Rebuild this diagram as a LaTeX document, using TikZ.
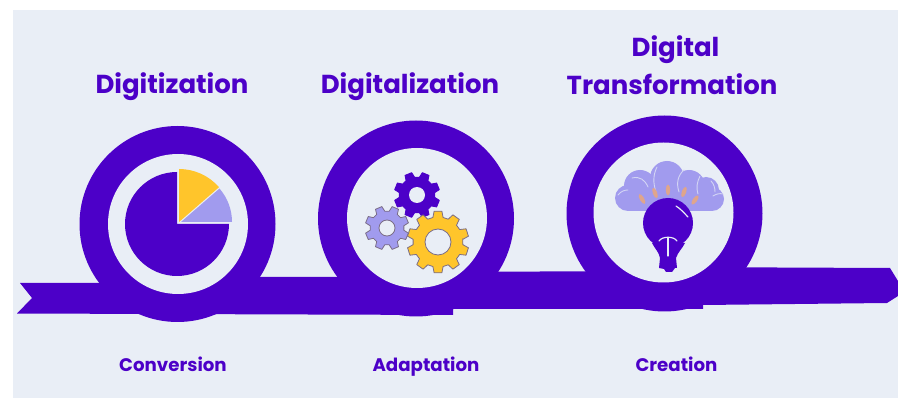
\documentclass[tikz,border=0pt]{standalone}
\usepackage{fontspec}
\setmainfont{Poppins}
\definecolor{bgpale}{HTML}{E9EEF6}
\definecolor{deep}{HTML}{4C00C8}
\definecolor{lilac}{HTML}{A19BEE}
\definecolor{sun}{HTML}{FFC52B}
\definecolor{flame}{HTML}{DFA58C}
\definecolor{gearline}{HTML}{7A6C86}
\definecolor{crease}{HTML}{D3D5F4}
\newcommand{\gear}[6]{
\draw [fill=#4,draw=#5,line width=.8pt,line join=round,shift={(#1)}]
 (-7.5:#2) \foreach \a in {1,...,#6} {
  -- ({(\a-1)*360/#6+360/#6*.17}:#2) -- ({(\a-1)*360/#6+360/#6*.3}:#3) -- ({(\a-1)*360/#6+360/#6*.7}:#3) -- ({(\a-1)*360/#6+360/#6*.83}:#2)
 } -- cycle;
}
\begin{document}
\begin{tikzpicture}
[x=1pt,y=-1pt]
\tikzset{title/.style={text=deep,font=\fontsize{26}{37}\selectfont\bfseries},
	sub/.style={text=deep,anchor=base,font=\fontsize{18.2}{22}\selectfont\bfseries},
	thread/.style={crease,line width=.9pt,line cap=round},
	glint/.style={bgpale,line width=1.2pt,line cap=round},
	blob/.style={fill=lilac,draw=none}}
\useasboundingbox (0,0) rectangle (898,398);
\fill [bgpale] (13,10) rectangle (898,398);

\foreach \cx/\cy in {177.5/224,416/218.5,664.5/213.5}
	\fill [deep] (\cx,\cy) circle [radius=98pt];
\fill [deep] (20,283) -- (32,298) -- (17,313.5) -- (453,315) -- (453,309) -- (703,309) -- (703,305) -- (887,303) -- (898,296) -- (898,281) -- (890,268) -- (664,267) -- (664,271) -- (416,272) -- (416,277) -- (177,277) -- (177,283) -- cycle;
\foreach \cx/\cy in {178/224,417/218,663.5/212.5}
	\fill [bgpale] (\cx,\cy) circle [radius=70pt];

\fill [deep] (177,224) -- (177,172) arc [start angle=90,end angle=180,radius=52pt] arc [start angle=180,end angle=360,radius=52pt] -- cycle;
\fill [sun] (179,222) -- (179,169) arc [start angle=90,end angle=41,radius=53pt] -- cycle;
\fill [lilac] (181,222) -- (232,222) arc [start angle=0,end angle=41,radius=51pt] -- cycle;

\gear{417,195}{18}{23}{deep}{deep}{8}
\fill [bgpale] (417,195) circle [radius=8pt];
\gear{387,228}{17}{22}{lilac}{gearline}{8}
\draw [fill=bgpale,draw=gearline,line width=.8pt] (387,228) circle [radius=8pt];
\gear{438,242}{25}{31}{sun}{gearline}{10}
\draw [fill=bgpale,draw=gearline,line width=.8pt] (438,242) circle [radius=13pt];

\foreach \cx/\cy/\r in {628/198/13,640/186/16,667/178/17,689/186/16,706/190/13,712/199/12}
	\fill [blob] (\cx,\cy) circle [radius=\r pt];
\fill [blob] (628,180) rectangle (712,211);
\draw [thread] (618,195) .. controls (621,191) and (625,190) .. (628,190);
\draw [thread] (632,178) .. controls (640,176) and (645,180) .. (648,187);
\draw [thread] (657,167) .. controls (653,175) and (653,183) .. (656,192);
\draw [thread] (684,170) .. controls (678,175) and (676,183) .. (679,192);
\draw [thread] (700,176) .. controls (697,182) and (696,188) .. (698,194);
\draw [thread] (711,181) .. controls (714,184) and (715,188) .. (715,192);
\draw [thread] (713,196) .. controls (716,194) and (720,193) .. (723,194);
\foreach \cx/\cy/\ang in {642/199/30,655/193/20,668/190/0,684/192/-20,695/200/-35}
	\fill [flame,rotate around={\ang:(\cx,\cy)}] (\cx,\cy) ellipse [x radius=2.2pt,y radius=5.5pt];

\fill [deep] (668,223) circle [radius=25pt];
\fill [deep] (652,243) .. controls (655,249) and (659,252) .. (660,258) -- (659,268) -- (664,269) -- (666,272) -- (672,272) -- (675,268) -- (677,268) -- (676,258) .. controls (678,252) and (682,249) .. (685,243) -- cycle;
\draw [glint] (676,206) .. controls (681,209) and (685,214) .. (688,217);
\draw [glint] (668,238) -- (668,256);
\draw [glint] (659,241) .. controls (662,236) and (674,236) .. (677,241);

\node [title] (digitization) at (172,87) {Digitization};
\node [title] (digitalization) at (410,87) {Digitalization};
\node [title] (digital) at (675.5,50) {Digital};
\node [title] (transformation) at (672,84) {Transformation};
\node [sub] (conversion) at (173,371) {Conversion};
\node [sub] (adaptation) at (426,371) {Adaptation};
\node [sub] (creation) at (676.5,371) {Creation};

\end{tikzpicture}
\end{document}
